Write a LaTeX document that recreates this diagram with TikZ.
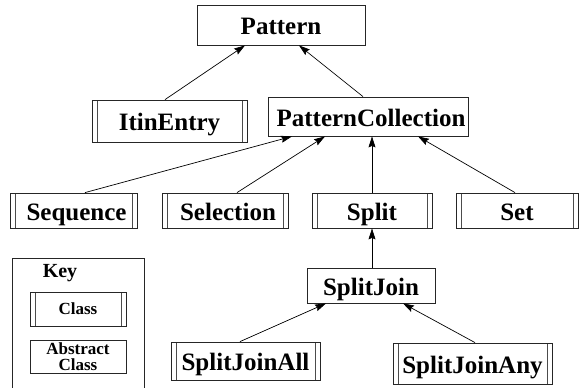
\documentclass[tikz,border=0pt]{standalone}
\usepackage{fontspec}
\setmainfont{Liberation Serif}
\usetikzlibrary{arrows.meta}
\tikzset{
  abstractbox/.style={draw=black!85, line width=0.8pt, inner sep=0pt,
    font=\fontsize{25}{28}\selectfont\bfseries,
    text height=21pt, text depth=2pt},
  classbox/.style={abstractbox,
    path picture={
      \draw[black!70, line width=1pt]
        ([xshift=5pt]path picture bounding box.south west) --
        ([xshift=5pt]path picture bounding box.north west)
        ([xshift=-5pt]path picture bounding box.south east) --
        ([xshift=-5pt]path picture bounding box.north east);
    }},
  keyfont/.style={font=\fontsize{17}{16}\selectfont\bfseries},
  keyabstract/.style={draw=black!85, line width=0.8pt, inner sep=0pt,
    keyfont, align=center},
  keyclass/.style={classbox, keyfont, text height=12pt, text depth=2pt},
  inherit/.style={draw=black, line width=0.7pt,
    -{Stealth[length=11pt, width=7pt, inset=1.5pt]}},
}
\begin{document}
\begin{tikzpicture}[x=1pt, y=-1pt]
  \useasboundingbox (0,0) rectangle (579,388);

  % hierarchy
  \node[abstractbox, minimum width=168pt, minimum height=40pt] (pattern) at (281,25) {Pattern};
  \node[classbox, minimum width=155pt, minimum height=42pt] (itin) at (169.5,121) {ItinEntry};
  \node[abstractbox, minimum width=200pt, minimum height=39pt] (coll) at (368,116.5) {\hspace*{6pt}PatternCollection};
  \node[classbox, minimum width=127pt, minimum height=35pt] (seq) at (73.5,210.5) {\hspace*{6pt}Sequence};
  \node[classbox, minimum width=126pt, minimum height=35pt] (sel) at (225,210.5) {\hspace*{6pt}Selection};
  \node[classbox, minimum width=120pt, minimum height=35pt] (split) at (372,210.5) {Split};
  \node[classbox, minimum width=122pt, minimum height=35pt] (set) at (517,210.5) {Set};
  \node[abstractbox, minimum width=128pt, minimum height=35pt] (sj) at (371,285.5) {SplitJoin};
  \node[classbox, minimum width=149pt, minimum height=38pt] (sjall) at (245.5,361) {SplitJoinAll};
  \node[classbox, minimum width=159pt, minimum height=41pt] (sjany) at (472.5,363.5) {SplitJoinAny};

  % generalisation arrows, child to parent
  \draw[inherit] ([xshift=-4.5pt]itin.north) -- ([xshift=-36pt]pattern.south);
  \draw[inherit] ([xshift=-5pt]coll.north) -- ([xshift=18pt]pattern.south);
  \draw[inherit] ([xshift=11.5pt]seq.north) -- ([xshift=-76pt]coll.south);
  \draw[inherit] ([xshift=12pt]sel.north) -- ([xshift=-43pt]coll.south);
  \draw[inherit] (split.north) -- ([xshift=4pt]coll.south);
  \draw[inherit] ([xshift=-2pt]set.north) -- ([xshift=50pt]coll.south);
  \draw[inherit] ([xshift=1pt]sj.north) -- (split.south);
  \draw[inherit] ([xshift=-5.5pt]sjall.north) -- ([xshift=-45pt]sj.south);
  \draw[inherit] ([xshift=2.5pt]sjany.north) -- ([xshift=32pt]sj.south);

  % key
  \coordinate (keybl) at (12,392);
  \coordinate (keytl) at (12,258);
  \coordinate (keytr) at (144,258);
  \coordinate (keybr) at (144,392);
  \draw[black!85, line width=0.8pt] (keybl) -- (keytl) -- (keytr) -- (keybr);
  \node[font=\fontsize{20}{20}\selectfont\bfseries] (keytitle) at (60,273) {Key};
  \node[keyclass, minimum width=96pt, minimum height=34pt] (keycls) at (78,309) {Class};
  \node[keyabstract, minimum width=96pt, minimum height=33pt] (keyabs) at (78,356.5) {Abstract\\Class};
\end{tikzpicture}
\end{document}
